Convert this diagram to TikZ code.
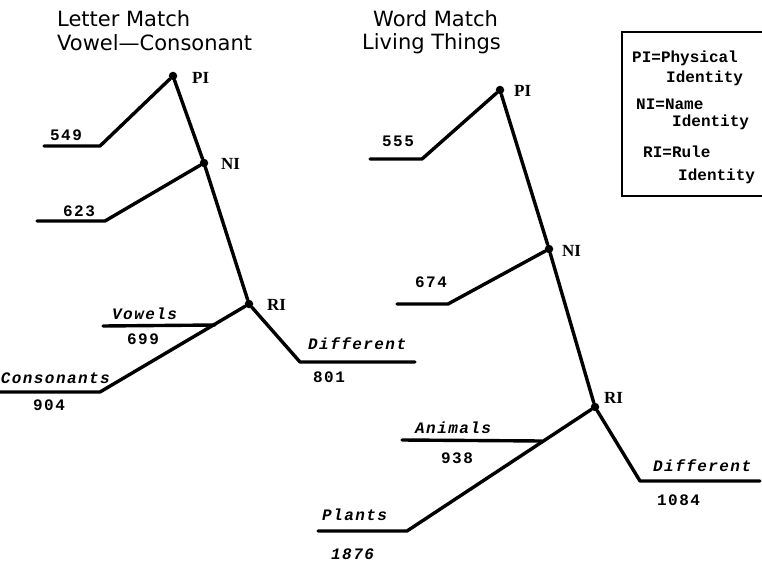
\documentclass[tikz,border=0pt]{standalone}
\usepackage{fontspec}
\newfontfamily\titlefont{DejaVu Sans}
\newfontfamily\typefont[LetterSpace=9]{Liberation Mono}
\newfontfamily\keyfont{Liberation Mono}
\newfontfamily\nodefont{Liberation Serif}
\begin{document}
\begin{tikzpicture}[x=1pt,y=-1pt,
  branch/.style={line width=3.4pt, line join=round, line cap=round},
  dot/.style={circle, fill=black, inner sep=0pt, minimum size=8.5pt},
  title/.style={anchor=base west, inner sep=0pt, font=\titlefont\fontsize{21}{21}\selectfont},
  num/.style={anchor=base west, inner sep=0pt, font=\typefont\bfseries\fontsize{16}{16}\selectfont},
  cat/.style={anchor=base west, inner sep=0pt, font=\typefont\bfseries\itshape\fontsize{16}{16}\selectfont},
  lvl/.style={anchor=base west, inner sep=0pt, font=\nodefont\bfseries\fontsize{17}{17}\selectfont},
  key/.style={anchor=base west, inner sep=0pt, font=\keyfont\bfseries\fontsize{16}{16}\selectfont}]
\useasboundingbox (0,0) rectangle (762,564);
\fill[white] (0,0) rectangle (762,564);

% ---------------- Letter match tree ----------------
\node[title] (t1a) at (57,27) {Letter Match};
\node[title] (t1b) at (57,51) {Vowel—Consonant};

\node[dot] (lPI) at (173,76) {};
\node[dot] (lNI) at (204,163) {};
\node[dot] (lRI) at (249,304) {};
\node[lvl] (lPIt) at (192,84) {PI};
\node[lvl] (lNIt) at (221,169) {NI};
\node[lvl] (lRIt) at (267,310) {RI};

\coordinate (a1) at (44,146);   \coordinate (a2) at (100,146);
\coordinate (b1) at (37,221);   \coordinate (b2) at (105,221);
\coordinate (c1) at (103,326);  \coordinate (c2) at (215,325);
\coordinate (d1) at (0,392);    \coordinate (d2) at (100,392);
\coordinate (e1) at (300,362);  \coordinate (e2) at (415,362);

\draw[branch] (lPI) -- (lNI) -- (lRI);
\draw[branch] (a1) -- (a2) -- (lPI);
\draw[branch] (b1) -- (b2) -- (lNI);
\draw[branch] (d1) -- (d2) -- (lRI);
\draw[branch] (c1) -- (c2);
\draw[branch] (lRI) -- (e1) -- (e2);

\node[num] (n549) at (50,141) {549};
\node[num] (n623) at (63,216) {623};
\node[cat] (vow) at (112,319) {Vowels};
\node[num] (n699) at (127,344) {699};
\node[cat, anchor=base east] (con) at (110,383) {Consonants};
\node[num] (n904) at (33,410) {904};
\node[cat] (dif1) at (308,349) {Different};
\node[num] (n801) at (313,382) {801};

% ---------------- Word match tree ----------------
\node[title] (t2a) at (373,27) {Word Match};
\node[title] (t2b) at (362,50) {Living Things};

\node[dot] (rPI) at (500,90) {};
\node[dot] (rNI) at (549,249) {};
\node[dot] (rRI) at (595,407) {};
\node[lvl] (rPIt) at (514,97) {PI};
\node[lvl] (rNIt) at (562,256) {NI};
\node[lvl] (rRIt) at (604,403) {RI};

\coordinate (f1) at (370,159);  \coordinate (f2) at (422,159);
\coordinate (g1) at (397,304);  \coordinate (g2) at (448,304);
\coordinate (h1) at (402,440);  \coordinate (h2) at (542,441);
\coordinate (i1) at (318,531);  \coordinate (i2) at (407,531);
\coordinate (j1) at (640,481);  \coordinate (j2) at (760,481);

\draw[branch] (rPI) -- (rNI) -- (rRI);
\draw[branch] (f1) -- (f2) -- (rPI);
\draw[branch] (g1) -- (g2) -- (rNI);
\draw[branch] (i1) -- (i2) -- (rRI);
\draw[branch] (h1) -- (h2);
\draw[branch] (rRI) -- (j1) -- (j2);

\node[num] (n555) at (382,147) {555};
\node[num] (n674) at (415,287) {674};
\node[cat] (ani) at (415,433) {Animals};
\node[num] (n938) at (441,463) {938};
\node[cat] (pla) at (322,520) {Plants};
\node[cat] (n1876) at (331,559) {1876};
\node[cat] (dif2) at (653,471) {Different};
\node[num] (n1084) at (657,505) {1084};

% ---------------- Key ----------------
\draw[line width=1.3pt] (775,32) -- (622,32) -- (622,196) -- (775,196);
\node[key] (k1) at (632,63) {PI=Physical};
\node[key] (k2) at (666,83) {Identity};
\node[key] (k3) at (636,110) {NI=Name};
\node[key] (k4) at (672,127) {Identity};
\node[key] (k5) at (643,158) {RI=Rule};
\node[key] (k6) at (678,180) {Identity};
\end{tikzpicture}
\end{document}
